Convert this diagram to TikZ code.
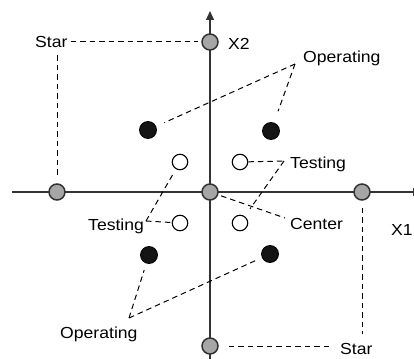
\documentclass[tikz,border=0pt]{standalone}
\usepackage{fontspec}
\setmainfont{Liberation Sans}[FakeStretch=1.1]
\usetikzlibrary{arrows.meta}
\begin{document}
\begin{tikzpicture}[x=1pt,y=-1pt,
  axis/.style={line width=1.3pt, black!80},
  link/.style={dash pattern=on 5.5pt off 4pt, line width=1pt, black},
  stardot/.style={circle, draw=black!80, fill=gray!70, line width=1.5pt,
                  minimum size=16pt, inner sep=0pt},
  opdot/.style={circle, draw=black, fill=black!92, line width=0.8pt,
                minimum size=17pt, inner sep=0pt},
  testdot/.style={circle, draw=black, fill=white, line width=1.1pt,
                  minimum size=15.5pt, inner sep=0pt},
  lbl/.style={anchor=base west, inner sep=0pt, font=\fontsize{16}{19}\selectfont}]
\useasboundingbox (0,0) rectangle (414,358);
\clip (0,0) rectangle (414,358);

% axes
\coordinate (xl) at (12,192);
\coordinate (xr) at (422,192);
\coordinate (yb) at (210,362);
\coordinate (yt) at (210,11);
\draw[axis,-{Triangle[width=8pt,length=9pt]}] (xl) -- (xr);
\draw[axis,-{Triangle[width=8pt,length=9pt]}] (yb) -- (yt);

% design points
\node[stardot] (c0) at (210,192) {};
\node[stardot] (sT) at (210,42) {};
\node[stardot] (sB) at (210,346) {};
\node[stardot] (sL) at (57,192) {};
\node[stardot] (sR) at (362,192) {};

\node[opdot] (o1) at (148,130) {};
\node[opdot] (o2) at (271,131) {};
\node[opdot] (o3) at (149,255) {};
\node[opdot] (o4) at (270,254) {};

\node[testdot] (t1) at (180,162) {};
\node[testdot] (t2) at (240,162) {};
\node[testdot] (t3) at (180,223) {};
\node[testdot] (t4) at (240,223) {};

% labels
\node[lbl] (stA) at (35,48) {Star};
\node[lbl] (stB) at (340,354) {Star};
\node[lbl] (x2) at (228,50) {X2};
\node[lbl] (x1) at (391,235) {X1};
\node[lbl] (opA) at (303,63) {Operating};
\node[lbl] (opB) at (60,338) {Operating};
\node[lbl] (teA) at (290,168) {Testing};
\node[lbl] (teB) at (88,230) {Testing};
\node[lbl] (ce) at (290,229) {Center};

% leader anchors
\coordinate (opAp) at (295,64);
\coordinate (opBp) at (129,318);
\coordinate (teAp) at (284,161);
\coordinate (teBp) at (146,221);
\coordinate (ceP) at (285,218);

% star leaders
\draw[link, shorten <=3pt, shorten >=3pt] (stA.east |- sT) -- (sT.west);
\draw[link, shorten <=7pt, shorten >=6pt] (stA.south -| sL) -- (sL.north);
\draw[link, shorten <=10pt, shorten >=10pt] (sB.east) -- (stB.west |- sB);
\draw[link, shorten <=7pt, shorten >=9pt] (sR.south) -- (stB.north -| sR);

% operating leaders
\draw[link, shorten >=9pt] (opAp) -- (o1);
\draw[link, shorten >=12pt] (opAp) -- (o2);
\draw[link, shorten >=7pt] (opBp) -- (o3);
\draw[link, shorten >=6pt] (opBp) -- (o4);

% testing leaders
\draw[link] (t2) -- (teAp);
\draw[link, shorten >=9pt] (teAp) -- (t4);
\draw[link] (teBp) -- (t3);
\draw[link, shorten >=3pt] (teBp) -- (t1);

% center leader
\draw[link, shorten <=3pt] (c0) -- (ceP);
\end{tikzpicture}
\end{document}
